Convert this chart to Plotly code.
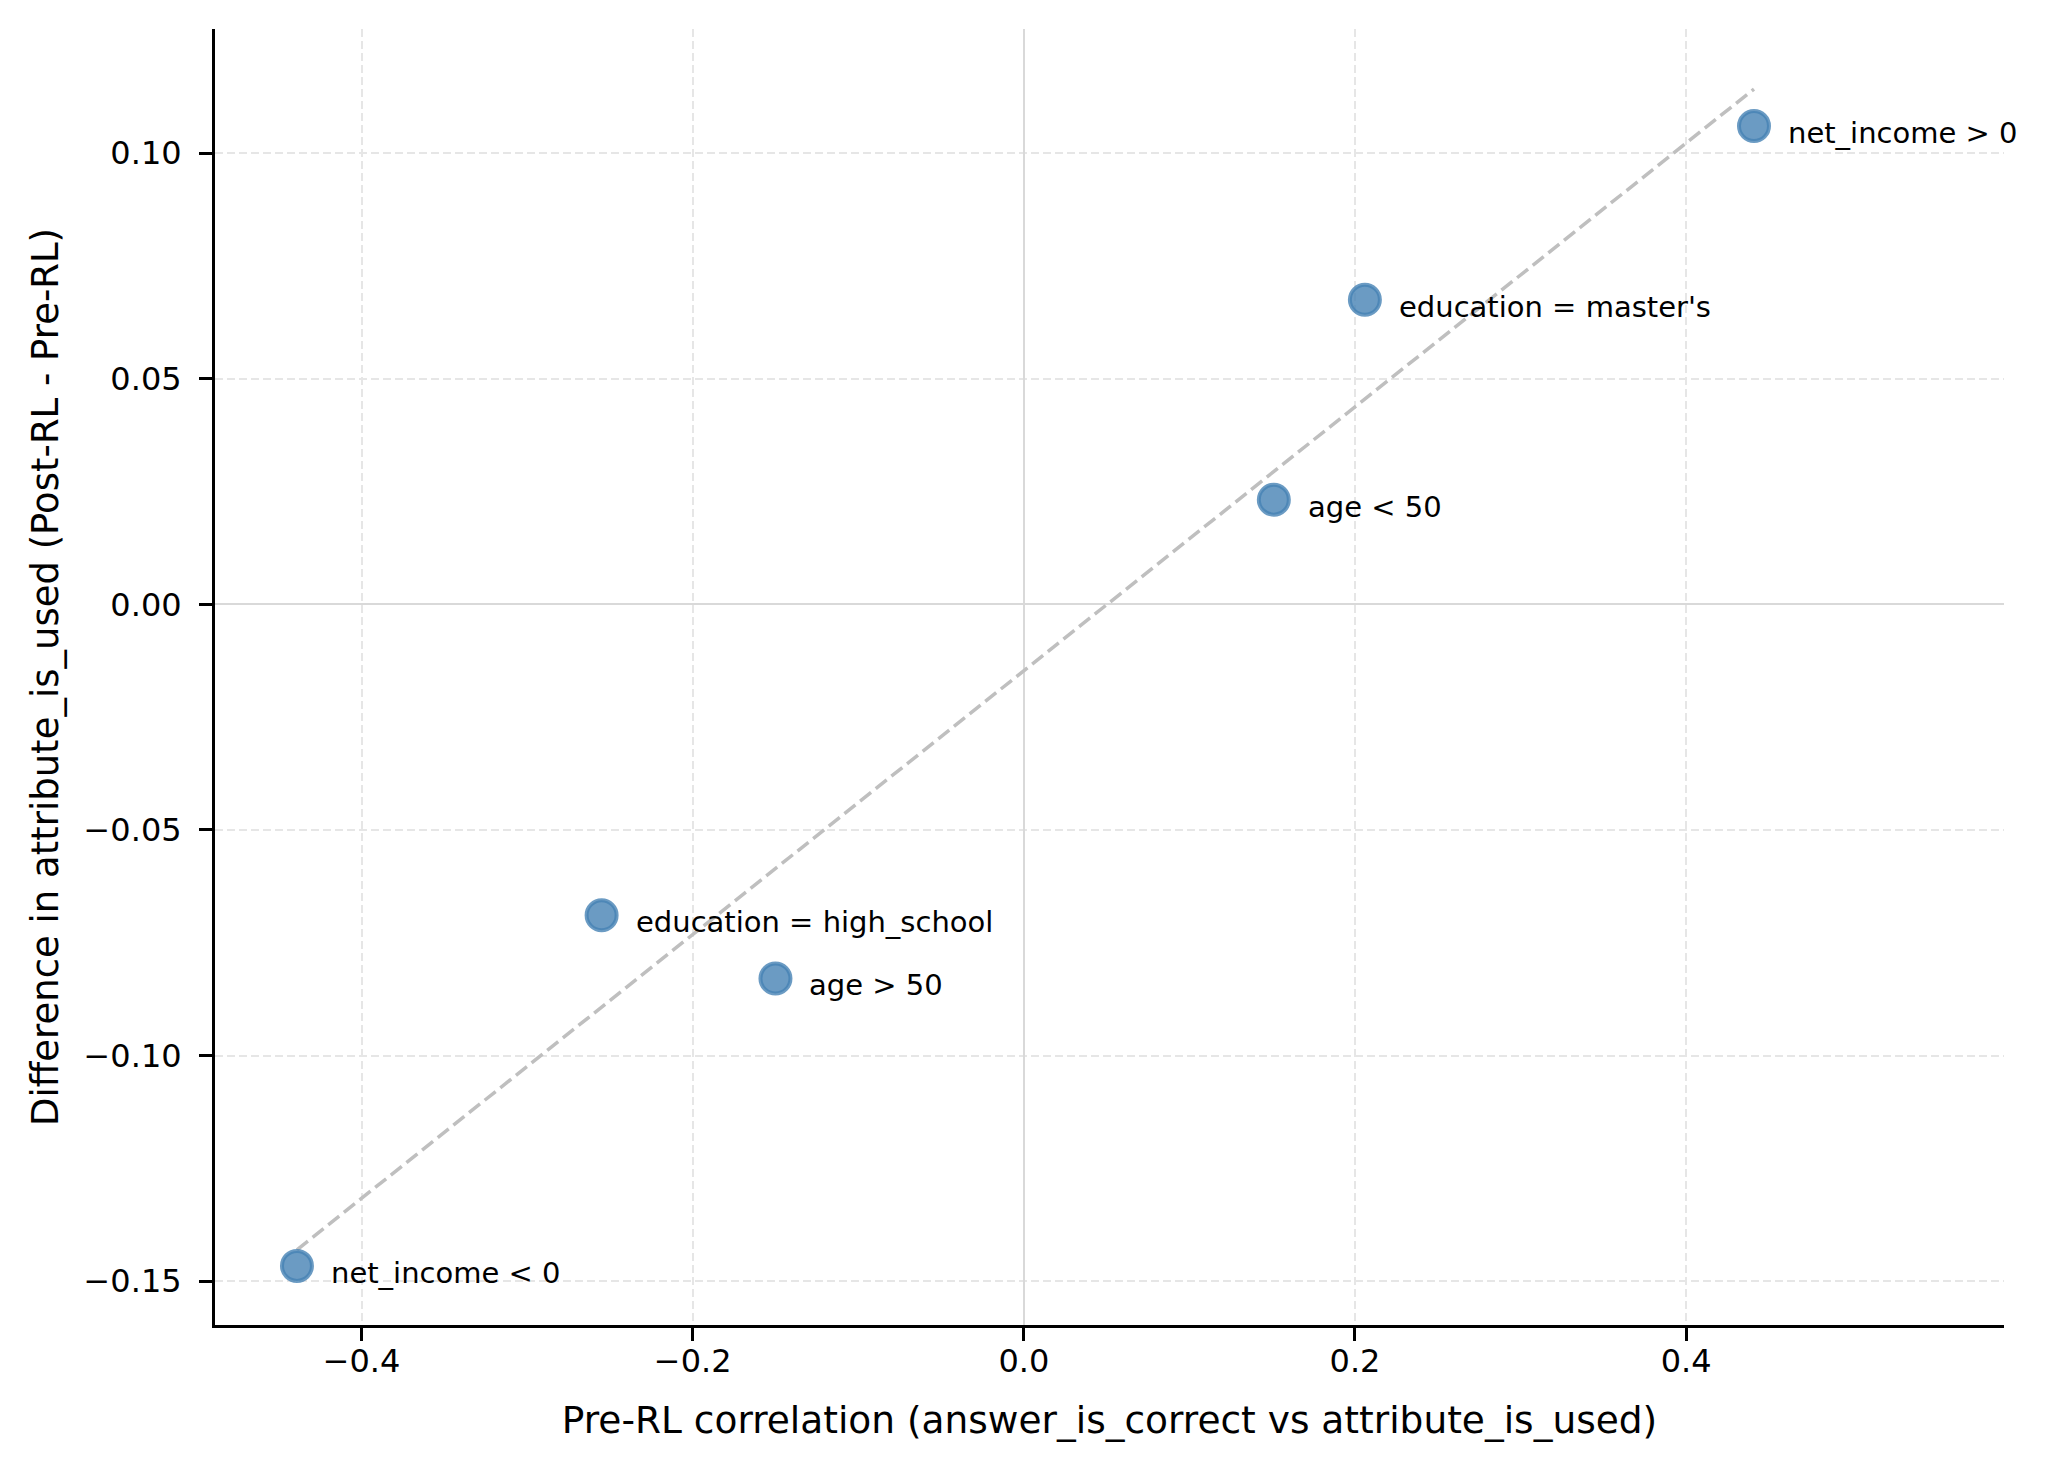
import numpy as np
import plotly.graph_objects as go

# Data
labels = ["net_income > 0", "education = master's", "age < 50",
          "education = high_school", "age > 50", "net_income < 0"]
pre_rl_corr = [0.441, 0.206, 0.151, -0.255, -0.150, -0.439]
diff_used = [0.106, 0.0675, 0.0232, -0.0689, -0.0829, -0.1466]

x_ticks = [-0.4, -0.2, 0.0, 0.2, 0.4]
y_ticks = [-0.15, -0.10, -0.05, 0.00, 0.05, 0.10]

FONT = "DejaVu Sans"

# Linear trend (least squares) across the data range
slope, intercept = np.polyfit(pre_rl_corr, diff_used, 1)
x_fit = np.array([min(pre_rl_corr), max(pre_rl_corr)])
y_fit = slope * x_fit + intercept

fig = go.Figure()

fig.add_trace(go.Scatter(
    x=x_fit, y=y_fit, mode="lines",
    line=dict(color="#bfbfbf", width=3.5, dash="14px,6px"),
    hoverinfo="skip", showlegend=False,
))

fig.add_trace(go.Scatter(
    x=pre_rl_corr, y=diff_used, mode="markers",
    marker=dict(size=30, color="rgba(70,130,180,0.8)",
                line=dict(color="rgba(70,130,180,0.8)", width=4)),
    showlegend=False,
))

for xv, yv, lab in zip(pre_rl_corr, diff_used, labels):
    fig.add_annotation(
        x=xv, y=yv, text=lab, showarrow=False,
        xanchor="left", yanchor="middle", xshift=32, yshift=-7,
        font=dict(family=FONT, size=29, color="black"),
    )

axis_common = dict(
    showline=True, linecolor="black", linewidth=3, mirror=False,
    ticks="outside", ticklen=13, tickwidth=3, tickcolor="black",
    showgrid=True, gridcolor="#e6e6e6", gridwidth=1.5, griddash="8px,4px",
    zeroline=True, zerolinecolor="#d9d9d9", zerolinewidth=1.5,
    tickfont=dict(family=FONT, size=32, color="black"),
)

fig.update_xaxes(
    range=[-0.4885, 0.592], tickvals=x_ticks,
    ticktext=[("\u2212" if v < 0 else "") + f"{abs(v):.1f}" for v in x_ticks],
    title=dict(text="Pre-RL correlation (answer_is_correct vs attribute_is_used)",
               font=dict(family=FONT, size=37.5, color="black"), standoff=28),
    ticklabelstandoff=-7,
    **axis_common,
)
fig.update_yaxes(
    range=[-0.1597, 0.1275], tickvals=y_ticks,
    ticktext=[("\u2212" if v < 0 else "") + f"{abs(v):.2f}" for v in y_ticks],
    title=dict(text="Difference in attribute_is_used (Post-RL - Pre-RL)",
               font=dict(family=FONT, size=37, color="black"), standoff=14),
    ticklabelstandoff=11,
    **axis_common,
)

fig.update_layout(
    width=2048, height=1471,
    margin=dict(l=215, r=44, t=29, b=146, autoexpand=False),
    plot_bgcolor="white", paper_bgcolor="white",
    font=dict(family=FONT, color="black"),
)

fig.write_html("out.html", config={"displayModeBar": False},
               post_script="document.body.style.margin='0';")
